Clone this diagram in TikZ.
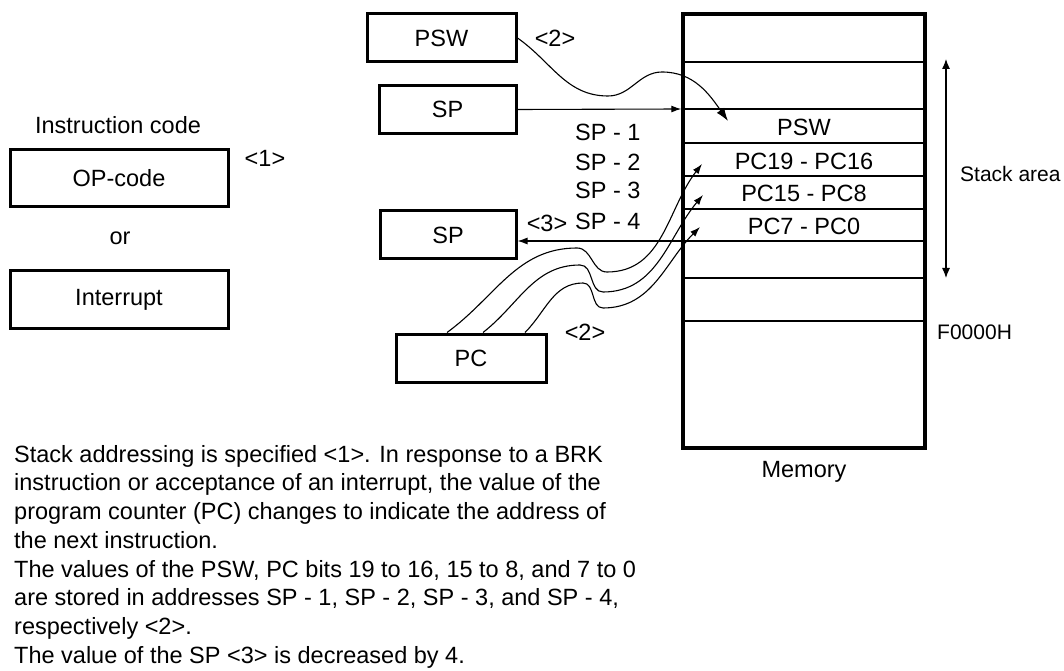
\documentclass[tikz,border=0pt]{standalone}
\usepackage{fontspec}
\setmainfont{Liberation Sans}
\usetikzlibrary{arrows.meta,positioning,calc}

\begin{document}
\begin{tikzpicture}[x=1pt,y=1pt,
    every node/.style={font=\fontsize{23.5}{28.7}\selectfont, inner sep=0pt},
    small/.style={font=\fontsize{21}{25}\selectfont},
    regbox/.style={draw, line width=3pt, minimum height=48pt},
    codebox/.style={draw, line width=3pt, minimum width=218pt, minimum height=57pt},
    link/.style={line width=1.1pt, -{Latex[length=10pt,width=7pt]}}]
\useasboundingbox (0,0) rectangle (1064,670);

% instruction code
\node (ins) at (118,545) {Instruction code};
\node[codebox] (op) at (119,491.5) {OP-code};
\node (or) at (120,432) {or};
\node[codebox] (int) at (119,370.5) {Interrupt};
\node (m1) at (265,512) {<1>};

% registers
\node[regbox, minimum width=149pt] (psw) at (441.5,632) {PSW};
\node[regbox, minimum width=137pt] (sp) at (447.5,560.5) {SP};
\node[regbox, minimum width=136pt] (spn) at (448,435) {SP};
\node[regbox, minimum width=150pt] (pc) at (471,312) {PC};
\node (m2a) at (555,632) {<2>};
\node (m3) at (547,447) {<3>};
\node (m2b) at (585,338) {<2>};
\node[anchor=west] (s1) at (575,538) {SP - 1};
\node[anchor=west] (s2) at (575,508) {SP - 2};
\node[anchor=west] (s3) at (575,480) {SP - 3};
\node[anchor=west] (s4) at (575,449) {SP - 4};

% memory
\node[draw, line width=3.4pt, minimum width=242pt, minimum height=434pt] (mem) at (804,439) {};
\foreach \y/\w [count=\i] in {608/1.6,561/1.6,527/1.6,494/2.2,461/2.2,429/1.6,392/2.2,349/1.6}
  \draw[line width=\w pt] (mem.west |- 0,\y) coordinate (row\i) -- (mem.east |- 0,\y);
\node (cpsw) at (804,543) {PSW};
\node (c19) at (804,509) {PC19 - PC16};
\node (c15) at (804,477) {PC15 - PC8};
\node (c7) at (804,444) {PC7 - PC0};
\node[anchor=base] (memlbl) at (804,193) {Memory};

% stack area
\coordinate (stop) at (946,611);
\coordinate (sbot) at (946,392);
\draw[line width=1.1pt, {Latex[length=10pt,width=8pt]}-{Latex[length=10pt,width=8pt]}] (stop) -- (sbot);
\node[small, anchor=west] (stack) at (960,496) {Stack area};
\node[small, anchor=west] (base) at (937,338) {F0000H};

% transfers
\coordinate (pswtip) at (728,549);
\coordinate (t19) at (702,506);
\coordinate (t15) at (703,475);
\coordinate (t7) at (700,443);
\draw[link, -{Latex[length=13pt,width=9pt]}] (psw.east) to[out=-35,in=180] (608,574)
  to[out=0,in=180] (662,598) to[out=0,in=125] (pswtip);
\draw[link] (sp.east) -- (row2);
\draw[link] (row6) -- (row6 -| spn.east);
\draw[link] ([xshift=-24pt]pc.north) to[out=36,in=180] (577,422)
  to[out=0,in=180] (607,398) to[out=0,in=232] (t19);
\draw[link] ([xshift=12pt]pc.north) to[out=38,in=180] (580,405)
  to[out=0,in=180] (603,378) to[out=0,in=230] (t15);
\draw[link] ([xshift=54pt]pc.north) to[out=45,in=180] (583,387)
  to[out=0,in=180] (603,362) to[out=0,in=225] (t7);

% description
\node[anchor=north west, align=left] (txt) at (14,225) {Stack addressing is specified <1>. In response to a BRK\\
instruction or acceptance of an interrupt, the value of the\\
program counter (PC) changes to indicate the address of\\
the next instruction.\\
The values of the PSW, PC bits 19 to 16, 15 to 8, and 7 to 0\\
are stored in addresses SP - 1, SP - 2, SP - 3, and SP - 4,\\
respectively <2>.\\
The value of the SP <3> is decreased by 4.};
\end{tikzpicture}
\end{document}
